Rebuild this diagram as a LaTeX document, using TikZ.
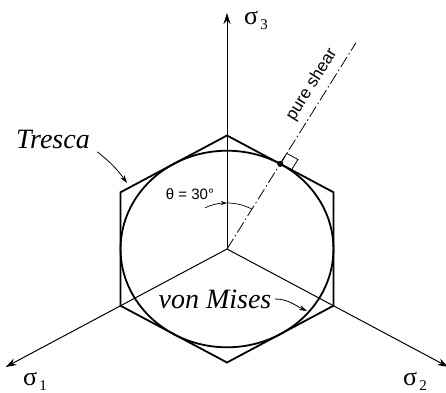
\documentclass[tikz,border=0pt]{standalone}
\usepackage{fontspec}
\setmainfont{Liberation Serif}
\newfontfamily\helv{Liberation Sans}
\usetikzlibrary{arrows.meta}

\begin{document}
\begin{tikzpicture}[x=1.083pt, y=1pt,
    eix/.style={line width=1pt, -{Stealth[length=11pt, width=7pt]}},
    crit/.style={line width=1.8pt},
    fletxa/.style={line width=0.8pt, -{Stealth[length=8pt, width=5pt]}},
    etiq/.style={font=\fontsize{28}{28}\selectfont\itshape},
    sigma/.style={font=\fontsize{26}{26}\selectfont, inner sep=0pt}]
    \useasboundingbox (-227pt,-143pt) rectangle (219pt,249pt);

    % 1. EIXOS PRINCIPALS (sigma 1, 2, 3)
    \coordinate (O) at (0,0);
    \foreach \a/\n/\lx/\ly in {90/3/29/229, 210/1/-192/-132, 330/2/188/-132} {
        \coordinate (t\n) at (\a:236);
        \draw[eix] (O) -- (t\n);
        \node[sigma] (s\n) at (\lx pt,\ly pt) {σ\hspace{2pt}\raisebox{-5pt}{\fontsize{15}{15}\selectfont\n}};
    }

    % 2. HEXÀGON DE TRESCA
    \draw[crit] (30:113.5) \foreach \a in {90,150,...,330} { -- (\a:113.5) } -- cycle;

    % 3. CERCLE DE VON MISES (inscrit)
    \draw[crit] (O) circle (98.3);

    % 4. CISALLAMENT PUR
    \coordinate (P) at (60:98.3);
    \coordinate (ps) at (60:238);
    \draw[line width=0.8pt, dash pattern=on 12pt off 3pt on 1.5pt off 3pt] (O) -- (ps);
    \draw[line width=0.8pt] (P) -- ++(60:12) -- ++(-30:12) -- ++(240:12);
    \fill (P) circle (3pt);
    \node[font=\helv\fontsize{17}{17}\selectfont, rotate=58, inner sep=1pt] (shear) at (85pt,164pt) {pure shear};

    % 5. ANGLE THETA
    \draw[line width=0.7pt, -{Stealth[length=6pt, width=4pt]}] (116:46) arc[start angle=116, end angle=90, radius=46];
    \draw[line width=0.7pt] (90:46) arc[start angle=90, end angle=60, radius=46];
    \node[font=\helv\fontsize{15}{15}\selectfont] (theta) at (-37pt,55pt) {θ = 30°};

    % 6. ETIQUETES DELS CRITERIS
    \node[etiq] (tresca) at (-174pt,110pt) {Tresca};
    \coordinate (tv) at (-100pt,66pt);
    \draw[fletxa] ([xshift=4pt]tresca.south east) to[bend left=8] (tv);

    \node[etiq] (mises) at (-12pt,-50pt) {von Mises};
    \coordinate (mv) at (80pt,-62pt);
    \draw[fletxa] (mises.east) to[out=0, in=155] (mv);

\end{tikzpicture}
\end{document}
